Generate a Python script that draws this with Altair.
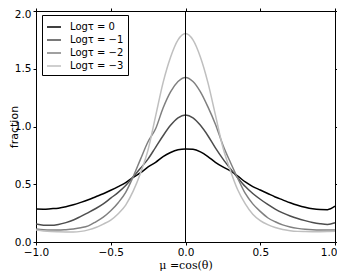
import altair as alt
import pandas as pd

x_vals = [round(-1 + 0.05 * i, 2) for i in range(41)]

labels = ["Logτ = 0", "Logτ = −1", "Logτ = −2", "Logτ = −3"]
colors = ["#000000", "#4d4d4d", "#808080", "#bfbfbf"]

tau0 = [0.285, 0.284, 0.288, 0.293, 0.305, 0.322, 0.343, 0.366, 0.392, 0.418,
        0.448, 0.48, 0.515, 0.56, 0.60, 0.65, 0.69, 0.74, 0.775, 0.798,
        0.805,
        0.802, 0.78, 0.74, 0.69, 0.65, 0.615, 0.57, 0.52, 0.48, 0.45,
        0.42, 0.39, 0.365, 0.34, 0.318, 0.30, 0.287, 0.281, 0.28, 0.31]

tau1 = [0.155, 0.146, 0.144, 0.152, 0.168, 0.19, 0.222, 0.255, 0.29, 0.33,
        0.38, 0.43, 0.49, 0.565, 0.64, 0.72, 0.82, 0.92, 1.01, 1.075,
        1.10,
        1.075, 1.01, 0.92, 0.815, 0.72, 0.635, 0.555, 0.48, 0.42, 0.37,
        0.325, 0.285, 0.252, 0.225, 0.203, 0.185, 0.169, 0.158, 0.152, 0.166]

tau2 = [0.112, 0.105, 0.103, 0.103, 0.107, 0.113, 0.123, 0.14, 0.175, 0.215,
        0.27, 0.34, 0.43, 0.565, 0.72, 0.87, 0.98, 1.16, 1.30, 1.39,
        1.425,
        1.39, 1.30, 1.17, 1.02, 0.84, 0.69, 0.55, 0.42, 0.33, 0.265,
        0.21, 0.175, 0.148, 0.13, 0.118, 0.11, 0.105, 0.103, 0.103, 0.104]

tau3 = [0.103, 0.095, 0.09, 0.088, 0.087, 0.087, 0.092, 0.105, 0.125, 0.155,
        0.19, 0.245, 0.32, 0.44, 0.60, 0.80, 1.09, 1.38, 1.60, 1.75,
        1.805,
        1.75, 1.60, 1.38, 1.10, 0.82, 0.62, 0.45, 0.33, 0.24, 0.185,
        0.15, 0.125, 0.108, 0.098, 0.092, 0.09, 0.089, 0.089, 0.09, 0.092]

x_ticks = [-1.0, -0.5, 0.0, 0.5, 1.0]
y_ticks = [0.0, 0.5, 1.0, 1.5, 2.0]

rows = []
for lab, ys in zip(labels, [tau0, tau1, tau2, tau3]):
    for xv, yv in zip(x_vals, ys):
        rows.append({"mu": xv, "frac": yv, "series": lab})
df = pd.DataFrame(rows)

xscale = alt.Scale(domain=[-1, 1], nice=False, zero=False)
yscale = alt.Scale(domain=[0, 2], nice=False)

axis_common = dict(domainColor="black", tickColor="black", labelColor="black",
                   tickSize=3, labelFont="DejaVu Sans", labelFontSize=10.5,
                   grid=False, titleColor="black")

lines = alt.Chart(df).mark_line(strokeWidth=1.5, interpolate="monotone").encode(
    x=alt.X("mu:Q", scale=xscale,
            axis=alt.Axis(values=x_ticks, format=".1f", title="μ =cos(θ)",
                          titleFont="DejaVu Serif", titleFontSize=11,
                          titleFontWeight="normal", titleY=23,
                          titleBaseline="middle",
                          labelAlign={"condition": {"test": "datum.value == 1", "value": "right"},
                                      "value": "center"},
                          labelOffset={"condition": {"test": "datum.value == 1", "value": 2},
                                       "value": 0},
                          labelPadding=2, **axis_common)),
    y=alt.Y("frac:Q", scale=yscale,
            axis=alt.Axis(values=y_ticks, format=".1f", title="fraction",
                          titleFont="DejaVu Sans", titleFontSize=11,
                          titleFontWeight="normal", titleX=-22,
                          titleBaseline="middle",
                          labelOffset={"condition": {"test": "datum.value == 2", "value": 3},
                                       "value": 0},
                          labelPadding=2, **axis_common)),
    color=alt.Color("series:N", sort=labels,
                    scale=alt.Scale(domain=labels, range=colors),
                    legend=alt.Legend(title=None, orient="none", legendX=6, legendY=4,
                                      strokeColor="black", fillColor="white",
                                      padding=4, cornerRadius=0,
                                      symbolType="stroke", symbolSize=196,
                                      symbolStrokeWidth=1.5,
                                      labelFont="DejaVu Sans", labelFontSize=10,
                                      labelColor="black", rowPadding=0,
                                      labelOffset=8)),
)

rule = alt.Chart(pd.DataFrame({"mu": [0.0]})).mark_rule(color="black", strokeWidth=1).encode(
    x=alt.X("mu:Q", scale=xscale,
            axis=alt.Axis(orient="top", values=x_ticks, labels=False, title=None,
                          domain=False, **axis_common)),
)

right = alt.Chart(df).mark_line(opacity=0).encode(
    x=alt.X("mu:Q", scale=xscale, axis=None),
    y=alt.Y("frac:Q", scale=yscale,
            axis=alt.Axis(orient="right", values=y_ticks, labels=False, title=None,
                          domain=False, **axis_common)),
    detail="series:N",
)

chart = alt.layer(lines, rule, right).resolve_axis(
    x="independent", y="independent"
).properties(
    width=299, height=231,
    autosize=alt.AutoSizeParams(type="none"),
    padding={"left": 28, "top": 3, "right": 2, "bottom": 30},
).configure_view(stroke="black", strokeWidth=1)

chart.save("out.html", embed_options={"renderer": "svg", "actions": False})
